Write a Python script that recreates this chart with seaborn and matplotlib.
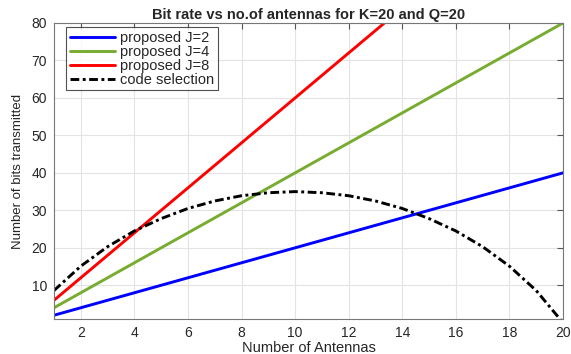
import numpy as np
import pandas as pd
import matplotlib
matplotlib.use("Agg")
import matplotlib.pyplot as plt
import seaborn as sns

# data
antennas = list(range(1, 21))
bits_j2 = [2, 4, 6, 8, 10, 12, 14, 16, 18, 20, 22, 24, 26, 28, 30, 32, 34, 36, 38, 40]
bits_j4 = [4, 8, 12, 16, 20, 24, 28, 32, 36, 40, 44, 48, 52, 56, 60, 64, 68, 72, 76, 80]
bits_j8 = [6, 12, 18, 24, 30, 36, 42, 48, 54, 60, 66, 72, 78, 84, 90, 96, 102, 108, 114, 120]
bits_code = [8.6, 15.1, 20.3, 24.5, 27.8, 30.5, 32.5, 33.9, 34.7, 35.0,
             34.7, 33.9, 32.5, 30.5, 27.8, 24.5, 20.3, 15.1, 8.6, 0.0]

series = {
    "proposed J=2": bits_j2,
    "proposed J=4": bits_j4,
    "proposed J=8": bits_j8,
    "code selection": bits_code,
}
df = pd.concat(
    [pd.DataFrame({"N": antennas, "bits": v, "scheme": k}) for k, v in series.items()],
    ignore_index=True,
)

sns.set_style("white")
plt.rcParams["font.family"] = ["Liberation Sans", "DejaVu Sans"]

fig = plt.figure(figsize=(5.71, 3.54), dpi=100)
ax = fig.add_axes([54 / 571, 1 - 319 / 354, 509 / 571, 296 / 354])

palette = {
    "proposed J=2": "#0000ff",
    "proposed J=4": "#77ac30",
    "proposed J=8": "#ff0000",
    "code selection": "#000000",
}
dashdot = (0, (3, 1.2, 1, 1.2))
sns.lineplot(data=df, x="N", y="bits", hue="scheme", palette=palette,
             linewidth=2.1, ax=ax, legend=False)
ax.lines[3].set_linestyle(dashdot)

ax.set_xlim(1, 20)
ax.set_ylim(1, 80)
ax.set_xticks(range(2, 21, 2))
ax.set_yticks(range(10, 81, 10))
ax.grid(True, color="#e3e3e3", linewidth=0.8)
ax.set_axisbelow(True)
for s in ax.spines.values():
    s.set_color("#777777")
    s.set_linewidth(0.8)
ax.tick_params(direction="in", length=4, color="#555555", labelsize=10,
               labelcolor="#262626", top=True, right=True, pad=5)

ax.set_title("Bit rate vs no.of antennas for K=20 and Q=20",
             fontsize=10.5, fontweight="bold", pad=3)
ax.set_xlabel("Number of Antennas", fontsize=10.5, labelpad=1, color="#262626")
ax.set_ylabel("Number of bits transmitted", fontsize=9.5, labelpad=5,
              color="#262626")

handles = [plt.Line2D([], [], color=palette[k], lw=2.1,
                      linestyle=dashdot if k == "code selection" else "-")
           for k in series]
leg = ax.legend(handles, list(series), loc="upper left", fontsize=10.5,
                frameon=True, fancybox=False, edgecolor="#262626",
                borderpad=0.25, labelspacing=0.0, handlelength=3.1,
                handletextpad=0.35, borderaxespad=0,
                bbox_to_anchor=(0.024, 0.986))
leg.get_frame().set_linewidth(0.8)

fig.savefig("out.png", dpi=100)
